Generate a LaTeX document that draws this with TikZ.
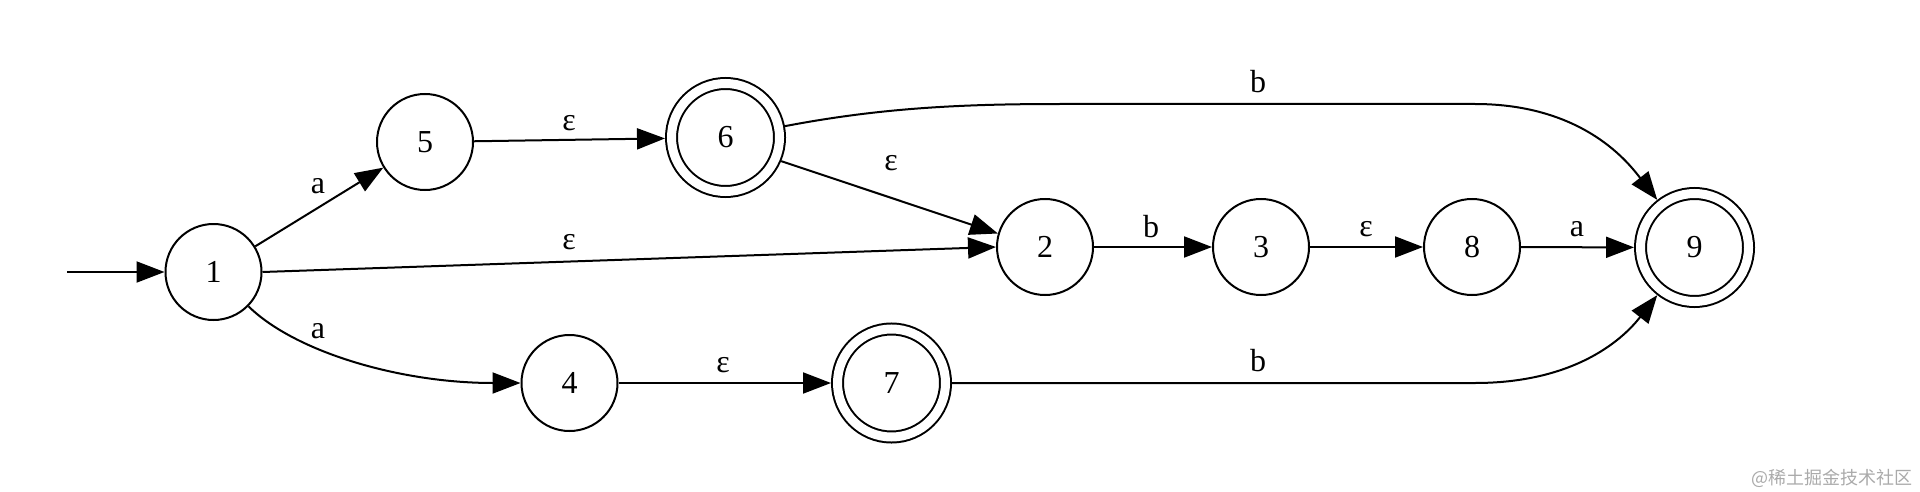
\documentclass[tikz,border=0pt]{standalone}
\usepackage{fontspec}
\setmainfont{Liberation Serif}
\newfontfamily\cjk{Noto Sans CJK SC}
\usetikzlibrary{arrows.meta}
\definecolor{wmgray}{RGB}{170,170,170}
\tikzset{
  st/.style={circle, draw, line width=1pt, minimum size=48pt, inner sep=0pt, font=\fontsize{16}{19}\selectfont},
  acc/.style={st, double, double distance=4.5pt, minimum size=54pt, outer sep=3.25pt},
  tr/.style={-{Triangle[length=14pt,width=10.5pt]}, line width=1pt},
  lbl/.style={inner sep=0pt, font=\fontsize{16}{19}\selectfont}
}
\begin{document}
\begin{tikzpicture}[x=0.5pt,y=-0.5pt]
\useasboundingbox (0,0) rectangle (1920,492);
\node[st] (1) at (213.5,272) {1};
\node[st] (5) at (425,142) {5};
\node[acc] (6) at (725.5,137.5) {6};
\node[st] (2) at (1045,247) {2};
\node[st] (3) at (1261,247) {3};
\node[st] (8) at (1472,247) {8};
\node[acc] (9) at (1694.5,247.5) {9};
\node[st] (4) at (569.5,383) {4};
\node[acc] (7) at (891.5,383) {7};
\coordinate (s) at (67,272);

\draw[tr] (s) -- (1);
\draw[tr] (1) -- (5);
\draw[tr] (5) -- (6);
\draw[tr] (6.-23) -- (2.164);
\draw[tr] (1.east) -- (2.west);
\draw[tr] (1) .. controls (295,352) and (400,383) .. (4);
\draw[tr] (4) -- (7);
\draw[tr] (2) -- (3);
\draw[tr] (3) -- (8);
\draw[tr] (8) -- (9);
\draw[tr] (6) .. controls (880,108) and (960,104) .. (1060,104) -- (1475,104) .. controls (1585,104) and (1630,165) .. (9);
\draw[tr] (7) -- (1475,383) .. controls (1585,383) and (1630,330) .. (9);

\node[lbl] (l15) at (318,186) {a};
\node[lbl] (l56) at (569,123) {ε};
\node[lbl] (l62) at (891,163) {ε};
\node[lbl] (l12) at (569,242) {ε};
\node[lbl] (l14) at (318,331) {a};
\node[lbl] (l47) at (723,365) {ε};
\node[lbl] (l69) at (1258,82) {b};
\node[lbl] (l79) at (1258,361) {b};
\node[lbl] (l23) at (1151,227) {b};
\node[lbl] (l38) at (1366,229) {ε};
\node[lbl] (l89) at (1577,229) {a};

\node[anchor=east, inner sep=0pt, text=wmgray, font=\cjk\fontsize{9}{9}\selectfont] (wm) at (1913,478) {@稀土掘金技术社区};
\end{tikzpicture}
\end{document}
